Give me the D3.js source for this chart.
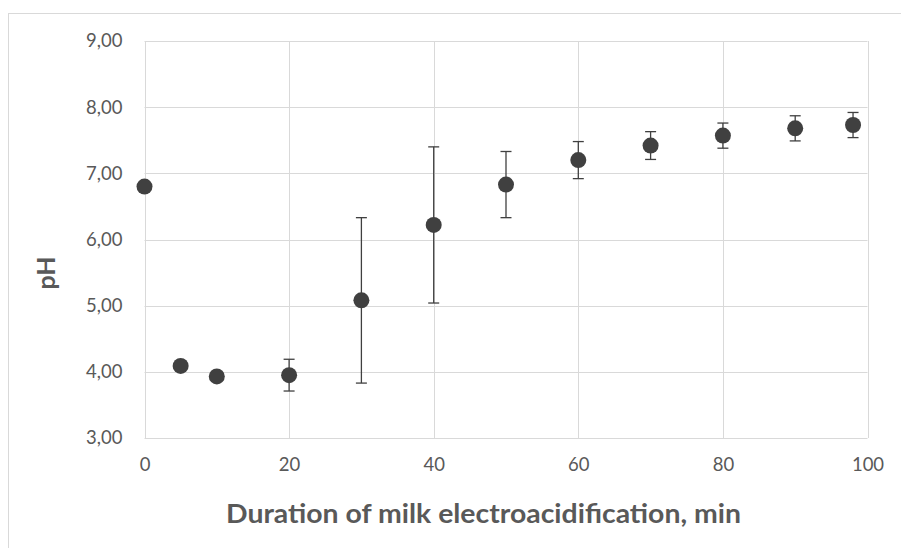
<!DOCTYPE html>
<html>
<head>
<meta charset="utf-8">
<script src="https://cdn.jsdelivr.net/npm/d3@7"></script>
<style>
  html, body { margin: 0; padding: 0; background: #fff; }
  svg { display: block; }
</style>
</head>
<body>
<svg id="chart" width="901" height="548"></svg>
<script>
const times = [0, 5, 10, 20, 30, 40, 50, 60, 70, 80, 90, 98];
const phValues = [6.80, 4.09, 3.93, 3.95, 5.08, 6.22, 6.83, 7.20, 7.42, 7.57, 7.68, 7.73];
const phErrors = [0, 0, 0, 0.24, 1.25, 1.18, 0.50, 0.28, 0.21, 0.19, 0.19, 0.19];
const xTicks = [0, 20, 40, 60, 80, 100];
const yTicks = [3, 4, 5, 6, 7, 8, 9];
const xTitle = "Duration of milk electroacidification, min";
const yTitle = "pH";

(function () {
const svg = d3.select("#chart");
const font = "Lato, 'Open Sans', 'Liberation Sans', sans-serif";
const pLeft = 144.5, pRight = 867.5, pTop = 41, pBottom = 438;

// outer chart border
svg.append("rect").attr("x", 8.5).attr("y", 13.5).attr("width", 920).attr("height", 560)
  .attr("fill", "#fff").attr("stroke", "#d9d9d9").attr("stroke-width", 1);

const x = d3.scaleLinear().domain([0, 100]).range([pLeft, pRight]);
const y = d3.scaleLinear().domain([3, 9]).range([pBottom, pTop]);

// grid
const g = svg.append("g");
g.selectAll("line.h").data(yTicks).join("line")
  .attr("x1", pLeft).attr("x2", pRight)
  .attr("y1", d => Math.round(y(d)) + 0.5).attr("y2", d => Math.round(y(d)) + 0.5)
  .attr("stroke", "#d9d9d9").attr("stroke-width", 1);
g.selectAll("line.v").data(xTicks).join("line")
  .attr("y1", pTop).attr("y2", pBottom)
  .attr("x1", d => Math.round(x(d)) + 0.5).attr("x2", d => Math.round(x(d)) + 0.5)
  .attr("stroke", "#d9d9d9").attr("stroke-width", 1);

// axes via d3 (labels only)
const xAxis = d3.axisBottom(x).tickValues(xTicks).tickSize(0).tickPadding(20).tickFormat(d3.format("d"));
const yAxis = d3.axisLeft(y).tickValues(yTicks).tickSize(0).tickPadding(22)
  .tickFormat(d => d3.format(".2f")(d).replace(".", ","));
const ax = svg.append("g").attr("transform", `translate(0,${pBottom})`).call(xAxis);
const ay = svg.append("g").attr("transform", `translate(${pLeft},0)`).call(yAxis);
[ax, ay].forEach(a => {
  a.select(".domain").remove();
  a.selectAll("text").attr("fill", "#595959").style("font-family", font).style("font-size", "18.5px");
});
ax.selectAll("text").attr("dy", "0.71em");

// error bars
const eb = svg.append("g").attr("stroke", "#404040").attr("stroke-width", 1.3);
const idx = d3.range(times.length).filter(i => phErrors[i] > 0);
eb.selectAll("line.stem").data(idx).join("line")
  .attr("x1", i => x(times[i])).attr("x2", i => x(times[i]))
  .attr("y1", i => y(phValues[i] + phErrors[i])).attr("y2", i => y(phValues[i] - phErrors[i]));
eb.selectAll("line.capT").data(idx).join("line")
  .attr("x1", i => x(times[i]) - 5.5).attr("x2", i => x(times[i]) + 5.5)
  .attr("y1", i => y(phValues[i] + phErrors[i])).attr("y2", i => y(phValues[i] + phErrors[i]));
eb.selectAll("line.capB").data(idx).join("line")
  .attr("x1", i => x(times[i]) - 5.5).attr("x2", i => x(times[i]) + 5.5)
  .attr("y1", i => y(phValues[i] - phErrors[i])).attr("y2", i => y(phValues[i] - phErrors[i]));

// points
svg.append("g").selectAll("circle").data(d3.range(times.length)).join("circle")
  .attr("cx", i => x(times[i])).attr("cy", i => y(phValues[i])).attr("r", 8)
  .attr("fill", "#404040");

// titles
svg.append("text").attr("x", 483.5).attr("y", 523).attr("text-anchor", "middle")
  .attr("fill", "#595959").style("font-family", font).style("font-weight", "bold").style("font-size", "26px")
  .attr("textLength", 515).attr("lengthAdjust", "spacingAndGlyphs")
  .text(xTitle);
svg.append("text").attr("transform", "translate(55,273) rotate(-90)").attr("text-anchor", "middle")
  .attr("fill", "#595959").style("font-family", font).style("font-weight", "bold").style("font-size", "25px")
  .text(yTitle);
})();
</script>
</body>
</html>
